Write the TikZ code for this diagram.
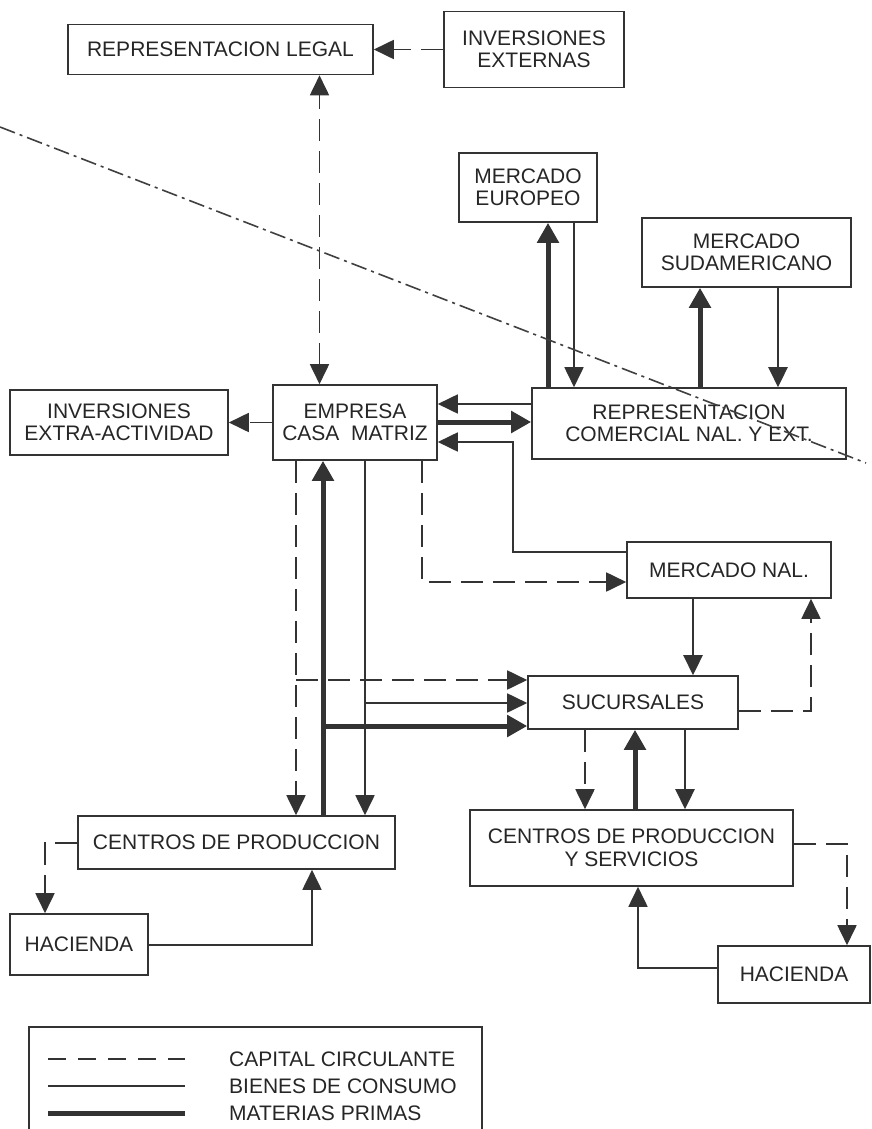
\documentclass[tikz,border=0pt]{standalone}
\usepackage{fontspec}
\setmainfont{Liberation Sans}
\usetikzlibrary{arrows.meta}

\tikzset{
  caja/.style={draw=black!80, line width=1.6pt, fill=white, inner sep=0pt, align=center, text=black!85},
  punta/.style={-{Triangle[length=20pt,width=19pt]}},
  bienes/.style={draw=black!80, line width=1.8pt, punta},
  bienesg/.style={bienes, line width=2.6pt},
  materias/.style={draw=black!80, line width=5pt, -{Triangle[length=20pt,width=21pt]}},
  capital/.style={draw=black!80, line width=1.8pt, dash pattern=on 22pt off 10pt, punta},
  limite/.style={draw=black!75, line width=1.6pt, dash pattern=on 16pt off 5pt on 3pt off 5pt},
}

\begin{document}
\begin{tikzpicture}[x=1pt, y=-1pt, font=\fontsize{21}{22.5}\selectfont]

    \useasboundingbox (0,0) rectangle (871,1129);

    % 縦の線の位置
    \coordinate (xlegal) at (319.5,0);
    \coordinate (xcapL)  at (296,0);
    \coordinate (xmatL)  at (323,0);
    \coordinate (xbienL) at (365,0);
    \coordinate (xcapR)  at (422,0);
    \coordinate (xmnalL) at (513,0);
    \coordinate (xeuroU) at (548,0);
    \coordinate (xeuroD) at (574,0);
    \coordinate (xsudU)  at (700,0);
    \coordinate (xsudD)  at (778,0);
    \coordinate (xmnalD) at (693,0);
    \coordinate (xsucR)  at (811,0);
    \coordinate (xsucA)  at (585,0);
    \coordinate (xsucB)  at (635,0);
    \coordinate (xsucC)  at (685,0);
    \coordinate (xhac1)  at (45,0);
    \coordinate (xhac1b) at (312,0);
    \coordinate (xhac2)  at (847,0);
    \coordinate (xhac2b) at (638,0);

    % 横の線の位置
    \coordinate (yr1)    at (0,404);
    \coordinate (yr2)    at (0,422);
    \coordinate (yr3)    at (0,442);
    \coordinate (ymnal1) at (0,552);
    \coordinate (ymnal2) at (0,582);
    \coordinate (ysuc1)  at (0,680);
    \coordinate (ysuc2)  at (0,703);
    \coordinate (ysuc3)  at (0,726);
    \coordinate (ysucd)  at (0,711);
    \coordinate (ycen)   at (0,843);
    \coordinate (ycps)   at (0,844);
    \coordinate (yhac1)  at (0,945);
    \coordinate (yhac2)  at (0,968);

    % 箱の描画
    \node[caja, minimum width=305pt, minimum height=50pt] (replegal) at (220.5,49.5) {REPRESENTACION LEGAL};
    \node[caja, minimum width=180pt, minimum height=76pt] (invext) at (534,49.5) {INVERSIONES\\EXTERNAS};
    \node[caja, minimum width=138pt, minimum height=69pt] (meuro) at (528,187.5) {MERCADO\\EUROPEO};
    \node[caja, minimum width=209pt, minimum height=69pt] (msud) at (746.5,252.5) {MERCADO\\SUDAMERICANO};
    \node[caja, minimum width=218pt, minimum height=65pt] (invextra) at (119,422.5) {INVERSIONES\\EXTRA-ACTIVIDAD};
    \node[caja, minimum width=164pt, minimum height=75pt] (empresa) at (355,422.5) {EMPRESA\\CASA~ MATRIZ};
    \node[caja, minimum width=314pt, minimum height=71pt] (repcom) at (689,423.5) {REPRESENTACION\\COMERCIAL NAL. Y EXT.};
    \node[caja, minimum width=204pt, minimum height=56pt] (mnal) at (729,570) {MERCADO NAL.};
    \node[caja, minimum width=210pt, minimum height=53pt] (sucursales) at (633,702.5) {SUCURSALES};
    \node[caja, minimum width=317pt, minimum height=53pt] (centros) at (236.5,842.5) {CENTROS DE PRODUCCION};
    \node[caja, minimum width=323pt, minimum height=76pt] (cps) at (631.5,848) {CENTROS DE PRODUCCION\\Y SERVICIOS};
    \node[caja, minimum width=138pt, minimum height=61pt] (haci1) at (79,944.5) {HACIENDA};
    \node[caja, minimum width=152pt, minimum height=57pt] (haci2) at (794,974.5) {HACIENDA};

    % 資本の流れ
    \draw[capital] (invext.west) -- (invext.west -| replegal.east);
    \draw[capital, {Triangle[length=20pt,width=19pt]}-{Triangle[length=20pt,width=19pt]}] (empresa.north -| xlegal) -- (replegal.south -| xlegal);
    \draw[capital] (empresa.west) -- (invextra.east);
    \draw[capital] (empresa.south -| xcapL) -- (centros.north -| xcapL);
    \draw[capital] (xcapL |- ysuc1) -- (sucursales.west |- ysuc1);
    \draw[capital] (empresa.south -| xcapR) |- (mnal.west |- ymnal2);
    \draw[capital] (sucursales.east |- ysucd) -| (mnal.south -| xsucR);
    \draw[capital] (sucursales.south -| xsucA) -- (cps.north -| xsucA);
    \draw[capital] (centros.west |- ycen) -| (haci1.north -| xhac1);
    \draw[capital] (cps.east |- ycps) -| (haci2.north -| xhac2);

    % 消費財の流れ
    \draw[bienes] (repcom.west |- yr1) -- (empresa.east |- yr1);
    \draw[bienes] (mnal.west |- ymnal1) -| (xmnalL |- yr3) -- (empresa.east |- yr3);
    \draw[bienes] (meuro.south -| xeuroD) -- (repcom.north -| xeuroD);
    \draw[bienesg] (msud.south -| xsudD) -- (repcom.north -| xsudD);
    \draw[bienes] (empresa.south -| xbienL) -- (centros.north -| xbienL);
    \draw[bienes] (xbienL |- ysuc2) -- (sucursales.west |- ysuc2);
    \draw[bienesg] (mnal.south -| xmnalD) -- (sucursales.north -| xmnalD);
    \draw[bienesg] (sucursales.south -| xsucC) -- (cps.north -| xsucC);
    \draw[bienes] (haci1.east |- yhac1) -| (centros.south -| xhac1b);
    \draw[bienes] (haci2.west |- yhac2) -| (cps.south -| xhac2b);

    % 原材料の流れ
    \draw[materias] (empresa.east |- yr2) -- (repcom.west |- yr2);
    \draw[materias] (repcom.north -| xeuroU) -- (meuro.south -| xeuroU);
    \draw[materias] (repcom.north -| xsudU) -- (msud.south -| xsudU);
    \draw[materias] (centros.north -| xmatL) -- (empresa.south -| xmatL);
    \draw[materias] (xmatL |- ysuc3) -- (sucursales.west |- ysuc3);
    \draw[materias] (cps.north -| xsucB) -- (sucursales.south -| xsucB);

    % 境界線
    \coordinate (lim1) at (0,127);
    \coordinate (lim2) at (866,463);
    \draw[limite] (lim1) -- (lim2);

    % 凡例
    \draw[draw=black!80, line width=1.6pt] (29,1131) |- (482,1027) -- (482,1131);
    \coordinate (ley1a) at (48,1059);  \coordinate (ley1b) at (185,1059);
    \coordinate (ley2a) at (48,1086);  \coordinate (ley2b) at (185,1086);
    \coordinate (ley3a) at (48,1113);  \coordinate (ley3b) at (185,1113);
    \draw[draw=black!80, line width=1.8pt, dash pattern=on 18pt off 12pt] (ley1a) -- (ley1b);
    \draw[draw=black!80, line width=1.8pt] (ley2a) -- (ley2b);
    \draw[draw=black!80, line width=5pt] (ley3a) -- (ley3b);
    \node[anchor=west, inner sep=0pt, text=black!85] (leycap) at (229,1059) {CAPITAL CIRCULANTE};
    \node[anchor=west, inner sep=0pt, text=black!85] (leybien) at (229,1086) {BIENES DE CONSUMO};
    \node[anchor=west, inner sep=0pt, text=black!85] (leymat) at (229,1113) {MATERIAS PRIMAS};

\end{tikzpicture}
\end{document}
